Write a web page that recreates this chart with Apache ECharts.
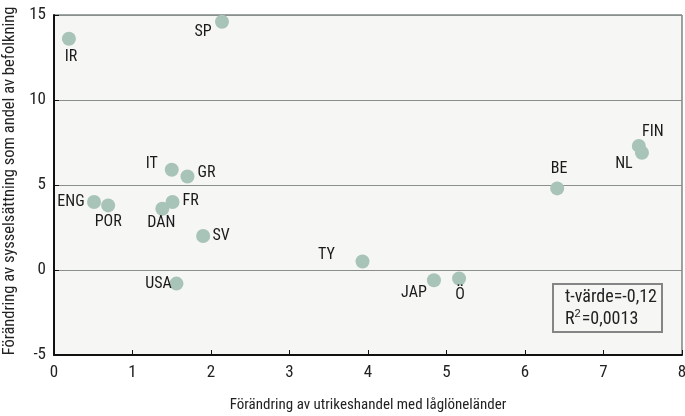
<!DOCTYPE html>
<html lang="sv">
<head>
<meta charset="UTF-8">
<title>Sysselsättning och låglönehandel</title>
<script src="https://cdn.jsdelivr.net/npm/echarts@6/dist/echarts.min.js"></script>
<style>
  html, body { margin: 0; padding: 0; background: #fff; }
  #main { width: 685px; height: 416px; }
</style>
</head>
<body>
<div id="main"></div>
<script>
// länder och värden
var countries = ['IR', 'SP', 'IT', 'GR', 'ENG', 'POR', 'FR', 'DAN', 'SV', 'USA', 'TY', 'JAP', 'Ö', 'BE', 'FIN', 'NL'];
var tradeChange = [0.19, 2.14, 1.50, 1.70, 0.51, 0.69, 1.51, 1.38, 1.90, 1.56, 3.93, 4.84, 5.16, 6.41, 7.45, 7.49];
var employmentChange = [13.6, 14.6, 5.9, 5.5, 4.0, 3.8, 4.0, 3.6, 2.0, -0.8, 0.5, -0.6, -0.5, 4.8, 7.3, 6.9];
var xTicks = [0, 1, 2, 3, 4, 5, 6, 7, 8];
var yTicks = [-5, 0, 5, 10, 15];

// var etikett hamnar (förskjutning från punktens mitt)
var labelOffset = {
    'IR': [2, 18], 'SP': [-19, 10], 'IT': [-20, -6], 'GR': [19, -4],
    'ENG': [-23, 0], 'POR': [0, 17], 'FR': [18, -1], 'DAN': [-1, 14],
    'SV': [18, 0], 'USA': [-18, 0], 'TY': [-36, -7], 'JAP': [-20, 13],
    'Ö': [1, 16], 'BE': [2, -19], 'FIN': [14, -14], 'NL': [-18, 11]
};

var font = '"Roboto Condensed", "Open Sans", sans-serif';

var points = [];
for (var i = 0; i < countries.length; i++) {
    points.push({
        name: countries[i],
        value: [tradeChange[i], employmentChange[i]],
        label: { offset: labelOffset[countries[i]] }
    });
}

var myChart = echarts.init(document.getElementById('main'));

var option = {
    animation: false,
    textStyle: { fontFamily: font },
    grid: {
        left: 54, right: 3, top: 15, bottom: 61,
        outerBoundsMode: 'none',
        containLabel: false,
        show: true,
        backgroundColor: '#f6f6f4',
        borderColor: '#3c4a44',
        borderWidth: 1
    },
    xAxis: {
        type: 'value',
        min: xTicks[0], max: xTicks[xTicks.length - 1], interval: 1,
        name: 'Förändring av utrikeshandel med låglöneländer',
        nameLocation: 'middle',
        nameGap: 43,
        nameTextStyle: { fontSize: 15, color: '#222', fontFamily: font },
        axisLine: { onZero: false, lineStyle: { color: '#111', width: 2 } },
        axisTick: { inside: true, length: 5, lineStyle: { color: '#111' } },
        axisLabel: { fontSize: 17, color: '#222', margin: 9, fontFamily: font },
        splitLine: { show: false }
    },
    yAxis: {
        type: 'value',
        min: yTicks[0], max: yTicks[yTicks.length - 1], interval: 5,
        name: 'Förändring av sysselsättning som andel av befolkning',
        nameLocation: 'middle',
        nameGap: 29,
        nameTextStyle: { fontSize: 16.5, color: '#222', fontFamily: font, padding: [0, 0, 0, 8] },
        axisLine: { show: true, onZero: false, lineStyle: { color: '#111', width: 2 } },
        axisTick: { show: true, inside: true, length: 5, lineStyle: { color: '#111' } },
        axisLabel: { fontSize: 17, color: '#222', margin: 8, fontFamily: font },
        splitLine: { show: true, lineStyle: { color: '#8a8f8d', width: 1 } }
    },
    series: [{
        type: 'scatter',
        symbolSize: 14,
        itemStyle: { color: '#a8c3b7', opacity: 1 },
        label: {
            show: true,
            position: 'inside',
            formatter: '{b}',
            fontSize: 16,
            color: '#1a1a1a',
            fontFamily: font
        },
        data: points
    }],
    graphic: [{
        type: 'group',
        left: 552, top: 283,
        children: [{
            type: 'rect',
            shape: { x: 0, y: 0, width: 109, height: 48 },
            style: { fill: '#f6f6f4', stroke: '#858585', lineWidth: 2 }
        }, {
            type: 'text',
            left: 12, top: 2,
            style: {
                text: 't-värde=-0,12\nR{sup|2}=0,0013',
                rich: { sup: { fontSize: 11, verticalAlign: 'top', padding: [0, 1, 9, 0] } },
                font: '18px ' + font,
                fill: '#222',
                lineHeight: 22
            }
        }]
    }]
};

myChart.setOption(option);
</script>
</body>
</html>
